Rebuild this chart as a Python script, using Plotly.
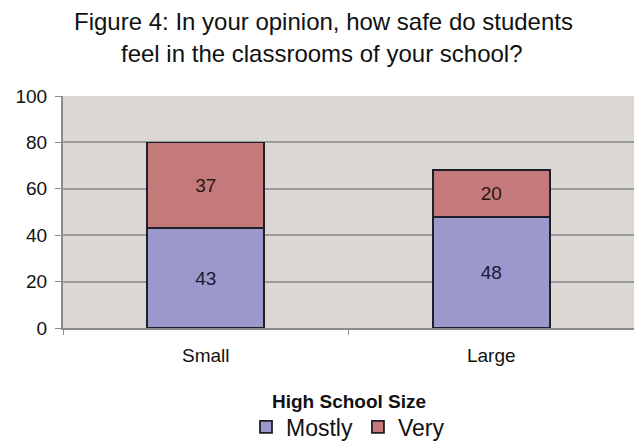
import plotly.graph_objects as go

categories = ["Small", "Large"]
mostly = [43, 48]
very = [37, 20]
y_ticks = [0, 20, 40, 60, 80, 100]

W, H = 634, 444
L, R, T, B = 63, 0, 96, 116
PH = H - T - B
font = "Liberation Sans, Arial, sans-serif"


def py(ypx):
    return (H - B - ypx) / PH


def px(xpx):
    return (xpx - L) / (W - L - R)


fig = go.Figure()
fig.add_trace(go.Bar(x=categories, y=mostly, name="Mostly", text=mostly,
                     textposition="inside", insidetextanchor="middle",
                     marker=dict(color="#9b98cc", line=dict(color="#1f1f2a", width=1.8)),
                     textfont=dict(color="#1a1a33", size=19, family=font), width=0.41))
fig.add_trace(go.Bar(x=categories, y=very, name="Very", text=very,
                     textposition="inside", insidetextanchor="middle",
                     marker=dict(color="#c47a7a", line=dict(color="#1f1f2a", width=1.8)),
                     textfont=dict(color="#2a1515", size=19, family=font), width=0.41))

fig.update_layout(
    width=W, height=H, barmode="stack",
    margin=dict(l=L, r=R, t=T, b=B, autoexpand=False),
    paper_bgcolor="white", plot_bgcolor="#dbd7d2",
    font=dict(family=font, color="#111"),
    showlegend=True,
    legend=dict(orientation="h", x=px(348), xanchor="center", y=py(427), yanchor="middle",
                font=dict(size=23, family=font, color="#111"),
                traceorder="normal", bgcolor="rgba(0,0,0,0)"),
    xaxis=dict(showgrid=False, showline=True, linecolor="#8c8c8c", linewidth=2,
               ticks="outside", tickson="boundaries", ticklen=5, tickcolor="#8c8c8c",
               ticklabelstandoff=9,
               tickfont=dict(size=19, family=font, color="#111")),
    yaxis=dict(range=[0, 100], tickvals=y_ticks, showgrid=True, gridcolor="#9a9a9a",
               gridwidth=2, showline=True, linecolor="#8c8c8c", linewidth=2,
               ticks="outside", ticklen=6, tickcolor="#8c8c8c", ticklabelstandoff=4,
               tickfont=dict(size=19, family=font, color="#111"), zeroline=False),
    annotations=[
        dict(text="Figure 4: In your opinion, how safe do students", xref="paper", yref="paper",
             x=px(323), y=py(21), xanchor="center", yanchor="middle", showarrow=False,
             font=dict(size=24, family=font, color="#111")),
        dict(text="feel in the classrooms of your school?", xref="paper", yref="paper",
             x=px(322), y=py(54), xanchor="center", yanchor="middle", showarrow=False,
             font=dict(size=24, family=font, color="#111")),
        dict(text="<b>High School Size</b>", xref="paper", yref="paper",
             x=px(349), y=py(401), xanchor="center", yanchor="middle", showarrow=False,
             font=dict(size=19, family=font, color="#111")),
    ],
)

fig.write_html("out.html", config={"displayModeBar": False},
               post_script="document.body.style.margin='0';")
